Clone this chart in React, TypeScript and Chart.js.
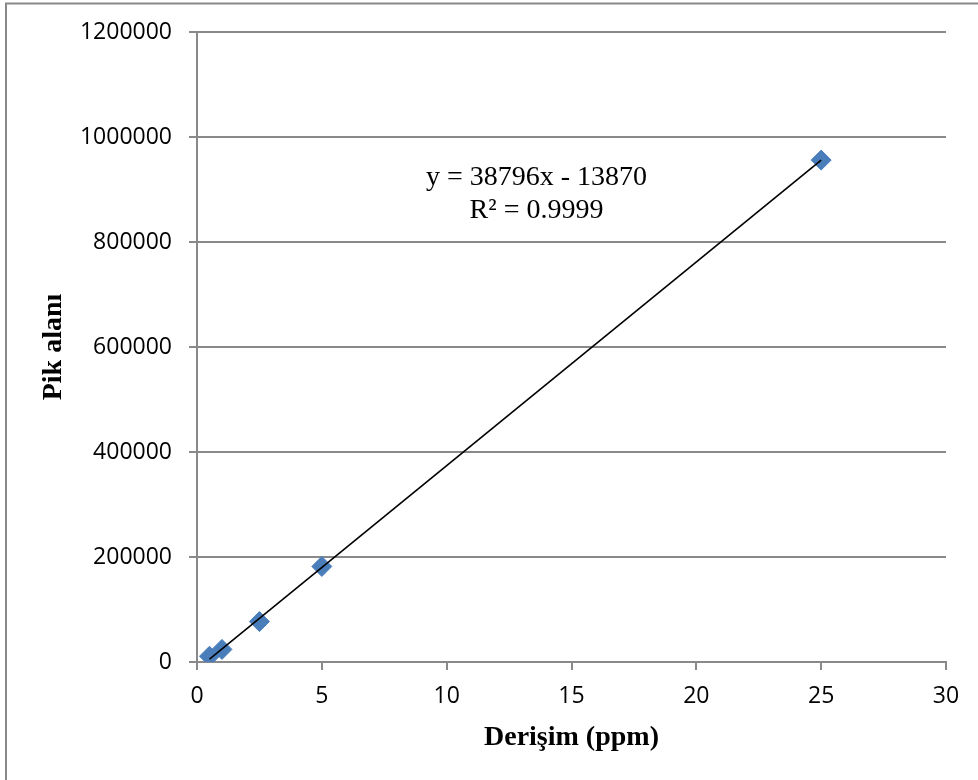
import React, { useEffect, useRef } from 'react';
import { Chart, registerables } from 'chart.js';

Chart.register(...registerables);

// Calibration data
const concentrations = [0.5, 1, 2.5, 5, 25];
const peakAreas = [11000, 24000, 77000, 182000, 956000];

// Linear trendline as shown on the chart
const trendSlope = 38796;
const trendIntercept = -13870;
const trendRangeX = [0.5, 25];

const xTickStep = 5;
const xMax = 30;
const yTickStep = 200000;
const yMax = 1200000;

const xTitle = 'Derişim (ppm)';
const yTitle = 'Pik alanı';
const equationLines = ['y = 38796x - 13870', 'R² = 0.9999'];
const equationAnchor = { x: 13.6, y: 922000 };

const GRID = '#898989';
const MARKER = '#4a7ebb';
const TICK_FONT = { family: '"Open Sans", "Noto Sans", sans-serif', size: 23 };
const TITLE_FONT = { family: '"Liberation Serif", "DejaVu Serif", serif', size: 28, weight: 'bold' as const };

const framePlugin = {
  id: 'frame',
  beforeDraw(chart: any) {
    const { ctx, width, height } = chart;
    ctx.save();
    ctx.fillStyle = '#ffffff';
    ctx.fillRect(0, 0, width, height);
    ctx.strokeStyle = GRID;
    ctx.lineWidth = 2;
    ctx.beginPath();
    ctx.moveTo(6, height);
    ctx.lineTo(6, 3.5);
    ctx.lineTo(width, 3.5);
    ctx.stroke();
    ctx.restore();
  },
};

const equationPlugin = {
  id: 'equation',
  afterDatasetsDraw(chart: any) {
    const { ctx, scales } = chart;
    const px = scales.x.getPixelForValue(equationAnchor.x);
    const py = scales.y.getPixelForValue(equationAnchor.y);
    ctx.save();
    ctx.fillStyle = '#000';
    ctx.font = '28px "Liberation Serif", "DejaVu Serif", serif';
    ctx.textAlign = 'center';
    ctx.textBaseline = 'middle';
    equationLines.forEach((line, i) => ctx.fillText(line, px, py + i * 33));
    ctx.restore();
  },
};

export default function App() {
  const canvasRef = useRef<HTMLCanvasElement | null>(null);

  useEffect(() => {
    if (!canvasRef.current) return;
    const points = concentrations.map((c, i) => ({ x: c, y: peakAreas[i] }));
    const trend = trendRangeX.map((x) => ({ x, y: trendSlope * x + trendIntercept }));

    const chart = new Chart(canvasRef.current, {
      type: 'scatter',
      data: {
        datasets: [
          {
            label: 'Trend',
            data: trend,
            showLine: true,
            borderColor: '#000',
            borderWidth: 1.6,
            pointRadius: 0,
            order: 0,
          },
          {
            label: 'Pik alanı',
            data: points,
            pointStyle: 'rectRot',
            pointRadius: 10,
            pointHoverRadius: 10,
            backgroundColor: MARKER,
            borderColor: MARKER,
            borderWidth: 1,
            order: 1,
          },
        ],
      },
      options: {
        responsive: false,
        animation: false,
        devicePixelRatio: 1,
        layout: { padding: { top: 32, right: 32, left: 0, bottom: 0 } },
        plugins: { legend: { display: false }, tooltip: { enabled: false } },
        scales: {
          x: {
            type: 'linear',
            min: 0,
            max: xMax,
            ticks: { stepSize: xTickStep, color: '#000', font: TICK_FONT, padding: 13, maxRotation: 0 },
            grid: { drawOnChartArea: false, drawTicks: true, tickLength: 8, color: GRID, lineWidth: 2 },
            border: { display: true, color: GRID, width: 2 },
            title: { display: true, text: xTitle, color: '#000', font: TITLE_FONT, padding: { top: 0, bottom: 25 } },
            afterFit: (s: any) => { s.height = 118; },
          },
          y: {
            type: 'linear',
            min: 0,
            max: yMax,
            ticks: { stepSize: yTickStep, color: '#000', font: TICK_FONT, padding: 17, callback: (v: any) => String(v) },
            grid: { drawTicks: true, tickLength: 8, color: GRID, lineWidth: 2 },
            border: { display: true, color: GRID, width: 2 },
            title: { display: true, text: yTitle, color: '#000', font: TITLE_FONT, padding: { top: 37, bottom: 0 } },
            afterFit: (s: any) => { s.width = 197; },
          },
        },
      },
      plugins: [framePlugin, equationPlugin],
    });
    return () => chart.destroy();
  }, []);

  return (
    <div style={{ position: 'fixed', left: 0, top: 0, width: 978, height: 780, background: '#fff' }}>
      <canvas ref={canvasRef} width={978} height={780} style={{ width: 978, height: 780, display: 'block' }} />
    </div>
  );
}
